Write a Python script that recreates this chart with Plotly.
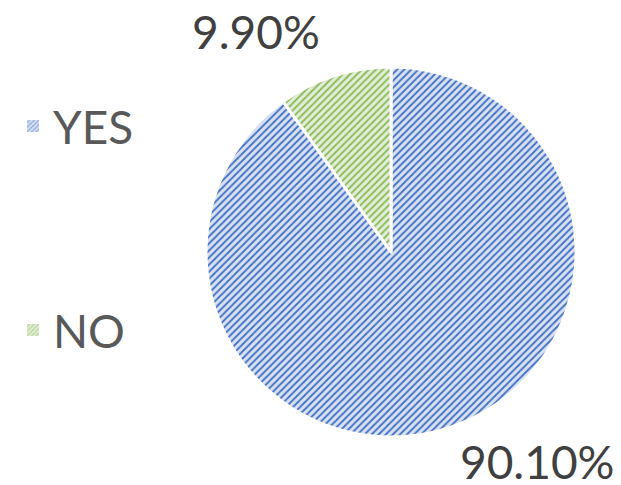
import plotly.graph_objects as go

labels = ["YES", "NO"]
values = [90.10, 9.90]
fg_colors = ["#4472C4", "#8DBB5A"]
bg_colors = ["#D9E2F3", "#E3EED8"]

fig = go.Figure()

fig.add_trace(go.Pie(
    labels=labels,
    values=values,
    sort=False,
    direction="clockwise",
    rotation=0,
    textinfo="none",
    showlegend=False,
    marker=dict(
        colors=bg_colors,
        line=dict(color="white", width=3),
        pattern=dict(shape="/", fgcolor=fg_colors, bgcolor=bg_colors,
                     size=5, solidity=0.38, fillmode="replace"),
    ),
    domain=dict(x=[206/621, 576/621], y=[0.099, 0.862]),
    hoverinfo="label+percent",
))

# legend swatches (one per category, each in its own legend box)
legend_names = ["legend", "legend2"]
for lab, fg, bg, lg in zip(labels, fg_colors, bg_colors, legend_names):
    fig.add_trace(go.Bar(
        x=[None], y=[None], name=lab, legend=lg, showlegend=True,
        marker=dict(color=bg, line=dict(width=0),
                    pattern=dict(shape="/", fgcolor=fg, bgcolor=bg, size=4, solidity=0.4)),
    ))

# percentage labels
label_pos = [(536.5/621, 1 - 461/485), (255.5/621, 1 - 31.5/485)]
for v, (px, py) in zip(values, label_pos):
    fig.add_annotation(x=px, y=py, xref="paper", yref="paper",
                       text=f"{v:.2f}%", showarrow=False,
                       xanchor="center", yanchor="middle",
                       font=dict(family="Lato", size=46, color="#404040"))

legend_style = dict(font=dict(family="Lato", size=46, color="#595959"),
                    bgcolor="rgba(0,0,0,0)", xanchor="left", yanchor="middle",
                    itemsizing="constant")
fig.update_layout(
    width=621, height=485,
    margin=dict(l=0, r=0, t=0, b=0),
    paper_bgcolor="white", plot_bgcolor="white",
    xaxis=dict(visible=False), yaxis=dict(visible=False),
    legend=dict(x=13/621, y=1 - 126/485, **legend_style),
    legend2=dict(x=13/621, y=1 - 330/485, **legend_style),
)

fig.write_html("out.html")
